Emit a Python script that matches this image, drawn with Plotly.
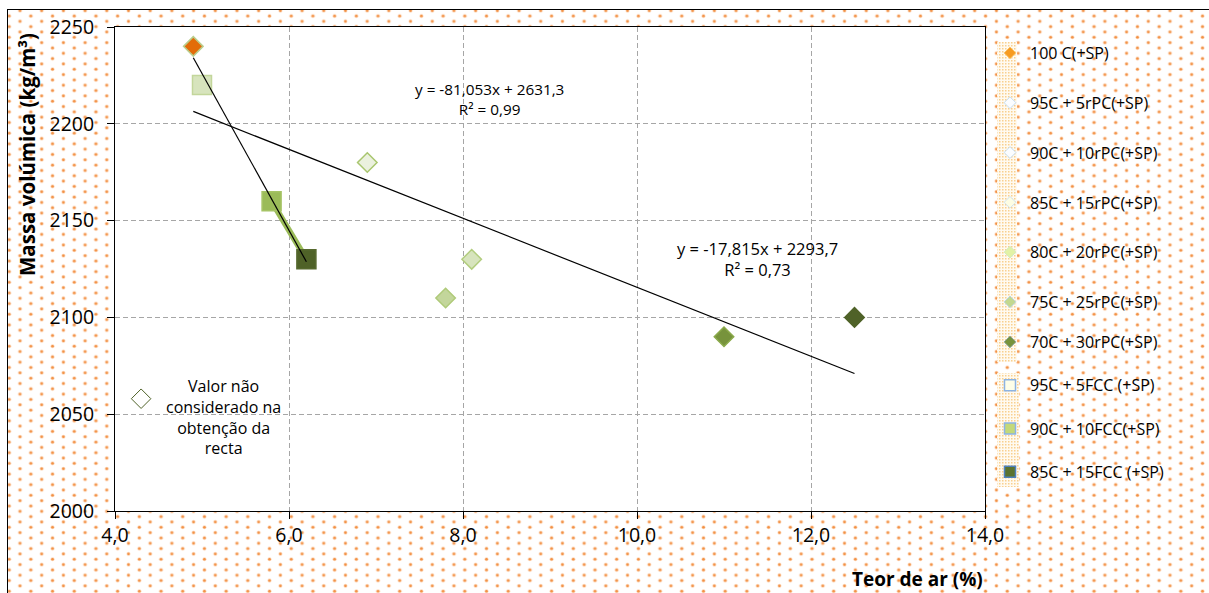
import base64
import numpy as np
import plotly.graph_objects as go

# ---------------------------------------------------------------- data
series_names = [
    "100 C(+SP)",
    "95C + 5rPC(+SP)",
    "90C + 10rPC(+SP)",
    "85C + 15rPC(+SP)",
    "80C + 20rPC(+SP)",
    "75C + 25rPC(+SP)",
    "70C + 30rPC(+SP)",
    "95C + 5FCC (+SP)",
    "90C + 10FCC(+SP)",
    "85C + 15FCC (+SP)",
]
air_content = [4.9, 6.9, 8.1, None, 7.8, 11.0, 12.5, 5.0, 5.8, 6.2]          # Teor de ar (%)
density = [2240, 2180, 2130, None, 2110, 2090, 2100, 2220, 2160, 2130]     # kg/m3

# series used in each linear fit (indices into the lists above)
fit_rpc = [0, 1, 2, 4, 5, 6]
fit_fcc = [0, 7, 8, 9]

# value left out of the fits (shown with its own note)
excluded_x = [4.3]
excluded_y = [2058]

x_ticks = [4, 6, 8, 10, 12, 14]
y_ticks = [2000, 2050, 2100, 2150, 2200, 2250]

# ---------------------------------------------------------------- styles
FONT = "Open Sans"
W, H = 1209, 593
L, R, T, B = 115, 224, 27, 82
PW, PH = W - L - R, H - T - B

# (symbol, size, fill, outline) of the plotted markers
plot_style = [
    ("diamond", 15, "#E36C09", "#B9CD8C"),
    ("diamond", 15, "#EBF1DE", "#A9C66F"),
    ("diamond", 15, "#D7E4BD", "#B2CD7E"),
    ("diamond", 15, "#D7E4BD", "#B2CD7E"),
    ("diamond", 15, "#C3D69B", "#AFCA79"),
    ("diamond", 15, "#77933C", "#8BAA4B"),
    ("diamond", 15, "#4F6228", "#4F6228"),
    ("square", 19, "#D7E4BD", "#C3D69B"),
    ("square", 19, "#9BBB59", "#A6C466"),
    ("square", 19, "#4F6228", "#56692E"),
]
# (symbol, size, fill, outline, width) of the legend keys
legend_style = [
    ("diamond", 9, "#F79B21", "#F9C46C", 1),
    ("diamond", 9, "#FBFDFF", "#C6DEF1", 1),
    ("diamond", 9, "#FBFDFF", "#C6DEF1", 1),
    ("diamond", 9, "#FDFDE4", "#CFE3EF", 1),
    ("diamond", 9, "#E2F2A6", "#D3EAC4", 1),
    ("diamond", 9, "#C3D88F", "#BCD7E4", 1),
    ("diamond", 9, "#77933C", "#8FA6A0", 1),
    ("square", 11, "#FEFEE8", "#8DB3E2", 1.5),
    ("square", 11, "#C3D97A", "#8DB3E2", 1.5),
    ("square", 11, "#5B7330", "#4F81BD", 1.5),
]

# ---------------------------------------------------------------- background (dotted chart area)
svg = f'''<svg xmlns="http://www.w3.org/2000/svg" width="{W}" height="{H}" viewBox="0 0 {W} {H}">
<defs>
<pattern id="dots" patternUnits="userSpaceOnUse" x="14.6" y="8.0" width="21.698" height="10.652">
<circle cx="5.4" cy="2.7" r="2.0" fill="#fcd5b6"/><circle cx="5.4" cy="2.7" r="1.25" fill="#f28f42"/>
<circle cx="16.25" cy="8.026" r="2.0" fill="#fcd5b6"/><circle cx="16.25" cy="8.026" r="1.25" fill="#f28f42"/>
</pattern>
<pattern id="fine" patternUnits="userSpaceOnUse" width="3" height="3">
<rect width="3" height="3" fill="#fffaf0"/><rect x="0" y="0" width="1.5" height="1.5" fill="#f9d08f"/>
</pattern>
</defs>
<rect width="{W}" height="{H}" fill="#ffffff"/>
<rect x="7.5" y="9.5" width="{W}" height="{H}" fill="url(#dots)"/>
<rect x="997" y="42" width="20" height="320" fill="url(#fine)"/>
<rect x="997" y="373" width="22" height="114" fill="url(#fine)"/>
<line x1="7.5" y1="9" x2="7.5" y2="{H}" stroke="#000" stroke-width="1"/>
<line x1="7" y1="9.5" x2="{W}" y2="9.5" stroke="#000" stroke-width="1"/>
</svg>'''
bg_uri = "data:image/svg+xml;base64," + base64.b64encode(svg.encode()).decode()


def num(v, d):
    return f"{v:.{d}f}".replace(".", ",")


def linear_fit(idx):
    xs = np.array([air_content[i] for i in idx], float)
    ys = np.array([density[i] for i in idx], float)
    slope, icpt = np.polyfit(xs, ys, 1)
    pred = slope * xs + icpt
    r2 = 1 - ((ys - pred) ** 2).sum() / ((ys - ys.mean()) ** 2).sum()
    xl = np.array([xs.min(), xs.max()])
    sign = "+" if icpt >= 0 else "-"
    label = f"y = {num(slope, 3)}x {sign} {num(abs(icpt), 1)}<br>R² = {num(r2, 2)}"
    return xl, slope * xl + icpt, label


fig = go.Figure()

# thick connector between the two highest-FCC mixes
fig.add_trace(go.Scatter(
    x=[air_content[8], air_content[9]], y=[density[8], density[9]],
    mode="lines", line=dict(color="#9BBB59", width=6),
    showlegend=False, hoverinfo="skip",
))

# measured points
for i, name in enumerate(series_names):
    if air_content[i] is None:
        continue
    sym, size, fill, edge = plot_style[i]
    fig.add_trace(go.Scatter(
        x=[air_content[i]], y=[density[i]], mode="markers", name=name,
        marker=dict(symbol=sym, size=size, color=fill, line=dict(color=edge, width=1.5)),
        showlegend=False,
    ))

# excluded value
fig.add_trace(go.Scatter(
    x=excluded_x, y=excluded_y, mode="markers",
    marker=dict(symbol="diamond", size=15, color="#FFFFFF", line=dict(color="#4F6228", width=1)),
    showlegend=False, hoverinfo="skip",
))

# linear trend lines
fx_rpc, fy_rpc, lab_rpc = linear_fit(fit_rpc)
fx_fcc, fy_fcc, lab_fcc = linear_fit(fit_fcc)
for fx, fy in ((fx_rpc, fy_rpc), (fx_fcc, fy_fcc)):
    fig.add_trace(go.Scatter(x=fx, y=fy, mode="lines", line=dict(color="#000000", width=1.2),
                             showlegend=False, hoverinfo="skip"))

# legend keys
for i, name in enumerate(series_names):
    sym, size, fill, edge, lw = legend_style[i]
    fig.add_trace(go.Scatter(
        x=[None], y=[None], mode="markers", name=name, legendgroup=f"g{i}",
        legend="legend" if i < 6 else "legend2",
        marker=dict(symbol=sym, size=size, color=fill, line=dict(color=edge, width=lw)),
    ))

axis_common = dict(
    showline=True, linecolor="#000000", linewidth=1, mirror=True,
    ticks="outside", ticklen=7, tickcolor="#000000", tickwidth=1,
    showgrid=True, gridcolor="#A6A6A6", gridwidth=1, griddash="5px,3px",
    zeroline=False, tickfont=dict(family=FONT, size=19.5, color="#000000"),
)

legend_common = dict(
    xref="container", yref="container", xanchor="left", yanchor="top",
    bgcolor="rgba(0,0,0,0)", borderwidth=0, itemsizing="trace",
    font=dict(family=FONT, size=16, color="#000000"),
)

fig.update_layout(
    width=W, height=H,
    margin=dict(l=L, r=R, t=T, b=B, autoexpand=False),
    paper_bgcolor="#FFFFFF", plot_bgcolor="#FFFFFF",
    separators=",.",
    font=dict(family=FONT, color="#000000"),
    xaxis=dict(range=[4, 14], tickvals=x_ticks, tickformat=".1f", **axis_common),
    yaxis=dict(range=[2000, 2250], tickvals=y_ticks, tickformat="d",
               ticklabelstandoff=9, **axis_common),
    legend=dict(x=990 / W, y=1 - 36 / H, tracegroupgap=26, **legend_common),
    legend2=dict(x=990 / W, y=1 - 325 / H, tracegroupgap=19.5, **legend_common),
    images=[dict(source=bg_uri, xref="paper", yref="paper", x=-L / PW, y=1 + T / PH,
                 sizex=W / PW, sizey=H / PH, xanchor="left", yanchor="top",
                 sizing="stretch", layer="below")],
    shapes=[dict(type="rect", xref="paper", yref="paper", x0=0, x1=1, y0=0, y1=1,
                 fillcolor="#FFFFFF", line=dict(width=0), layer="below")],
    annotations=[
        dict(x=8.30, y=2213, xref="x", yref="y", text=lab_fcc, showarrow=False,
             font=dict(size=15.3), align="center"),
        dict(x=11.38, y=2130, xref="x", yref="y", text=lab_rpc, showarrow=False,
             font=dict(size=16.5), align="center"),
        dict(x=5.25, y=2048.8, xref="x", yref="y",
             text="Valor não<br>considerado na<br>obtenção da<br>recta",
             showarrow=False, font=dict(size=16), align="center"),
        dict(x=(27 - L) / PW, y=(H - B - 155) / PH, xref="paper", yref="paper",
             text="<b>Massa volúmica (kg/m³)</b>", textangle=-90, showarrow=False,
             font=dict(size=20.5), xanchor="center", yanchor="middle"),
        dict(x=(917 - L) / PW, y=(H - B - 579) / PH, xref="paper", yref="paper",
             text="<b>Teor de ar (%)</b>", showarrow=False,
             font=dict(size=19), xanchor="center", yanchor="middle"),
    ],
)

fig.write_html("out.html")
